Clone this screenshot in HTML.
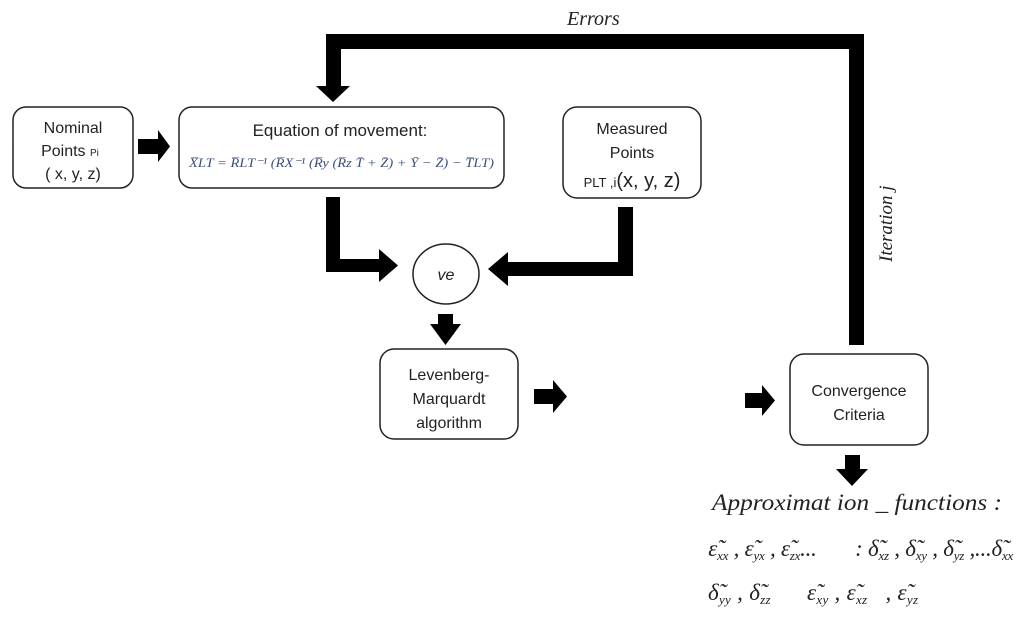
<!DOCTYPE html>
<html><head><meta charset="utf-8"><style>
html,body{margin:0;padding:0;background:#fff;}
svg{display:block}
text{white-space:pre}
.b{font-family:"Liberation Sans",sans-serif;fill:#222}
.s{font-family:"Liberation Serif",serif;font-style:italic;fill:#222}
</style></head><body>
<svg width="1024" height="623" viewBox="0 0 1024 623" xmlns="http://www.w3.org/2000/svg">
<g fill="#000">
<rect x="326" y="34" width="538" height="15"/>
<rect x="849" y="34" width="15" height="311"/>
<rect x="326" y="34" width="15" height="56"/>
<polygon points="316,86 350,86 333,102"/>
<rect x="138" y="139" width="21" height="15"/>
<polygon points="158,130 170,146.5 158,162"/>
<rect x="326" y="197" width="14" height="75"/>
<rect x="326" y="259" width="55" height="13"/>
<polygon points="379,249 398,265.5 379,282"/>
<rect x="505" y="262" width="128" height="14"/>
<rect x="618" y="207" width="15" height="69"/>
<polygon points="508,252 488,269 508,286"/>
<rect x="438" y="314" width="15" height="12"/>
<polygon points="430,324 461,324 445.5,345"/>
<rect x="534" y="389" width="20" height="15"/>
<polygon points="553,380 567,396.5 553,413"/>
<rect x="745" y="393" width="18" height="15"/>
<polygon points="762,385 775,400.5 762,416"/>
<rect x="845" y="455" width="15" height="16"/>
<polygon points="836,469 868,469 852,486"/>
</g>
<g fill="none" stroke="#222" stroke-width="1.5">
<rect x="13" y="107" width="120" height="81" rx="13"/>
<rect x="179" y="107" width="325" height="81" rx="13"/>
<rect x="563" y="107" width="138" height="91" rx="14"/>
<ellipse cx="446" cy="274" rx="33" ry="30"/>
<rect x="380" y="349" width="138" height="90" rx="14"/>
<rect x="790" y="354" width="138" height="91" rx="14"/>
</g>
<text class="s" x="567" y="25" font-size="20">Errors</text>
<text class="s" font-size="19" transform="translate(892,262) rotate(-90)">Iteration j</text>
<g class="b" font-size="16" text-anchor="middle">
<text x="73" y="133">Nominal</text>
<text x="70" y="156">Points <tspan font-size="10">Pi</tspan></text>
<text x="73" y="179">( x, y, z)</text>
<text x="340" y="136" font-size="17">Equation of movement:</text>
<text x="632" y="134">Measured</text>
<text x="632" y="158">Points</text>
<text x="632" y="187" font-size="20"><tspan font-size="13">PLT ,i</tspan>(x, y, z)</text>
<text x="446" y="280" font-style="italic">ve</text>
<text x="449" y="380">Levenberg-</text>
<text x="449" y="404">Marquardt</text>
<text x="449" y="428">algorithm</text>
<text x="859" y="396">Convergence</text>
<text x="859" y="420">Criteria</text>
</g>
<text x="189" y="167" font-family="Liberation Serif,serif" font-style="italic" font-size="13" fill="#3b4f7a" textLength="305" lengthAdjust="spacingAndGlyphs">X̅LT = R̅LT⁻¹ (R̅X⁻¹ (R̅y (R̅z T̄ + Z̄) + Ȳ − Z̄) − T̅LT)</text>
<g class="s" font-size="23">
<text x="712" y="510" textLength="290" lengthAdjust="spacingAndGlyphs">Approximat ion _ functions :</text>
<text x="708" y="556" textLength="305" lengthAdjust="spacing">ε̃<tspan font-size="13" dy="4">xx</tspan><tspan dy="-4"> , ε̃</tspan><tspan font-size="13" dy="4">yx</tspan><tspan dy="-4"> , ε̃</tspan><tspan font-size="13" dy="4">zx</tspan><tspan dy="-4">...       : δ̃</tspan><tspan font-size="13" dy="4">xz</tspan><tspan dy="-4"> , δ̃</tspan><tspan font-size="13" dy="4">xy</tspan><tspan dy="-4"> , δ̃</tspan><tspan font-size="13" dy="4">yz</tspan><tspan dy="-4"> ,...δ̃</tspan><tspan font-size="13" dy="4">xx</tspan></text>
<text x="708" y="600" textLength="210" lengthAdjust="spacing">δ̃<tspan font-size="13" dy="4">yy</tspan><tspan dy="-4"> , δ̃</tspan><tspan font-size="13" dy="4">zz</tspan><tspan dy="-4">      ε̃</tspan><tspan font-size="13" dy="4">xy</tspan><tspan dy="-4"> , ε̃</tspan><tspan font-size="13" dy="4">xz</tspan><tspan dy="-4">   , ε̃</tspan><tspan font-size="13" dy="4">yz</tspan></text>
</g>
</svg>
</body></html>
